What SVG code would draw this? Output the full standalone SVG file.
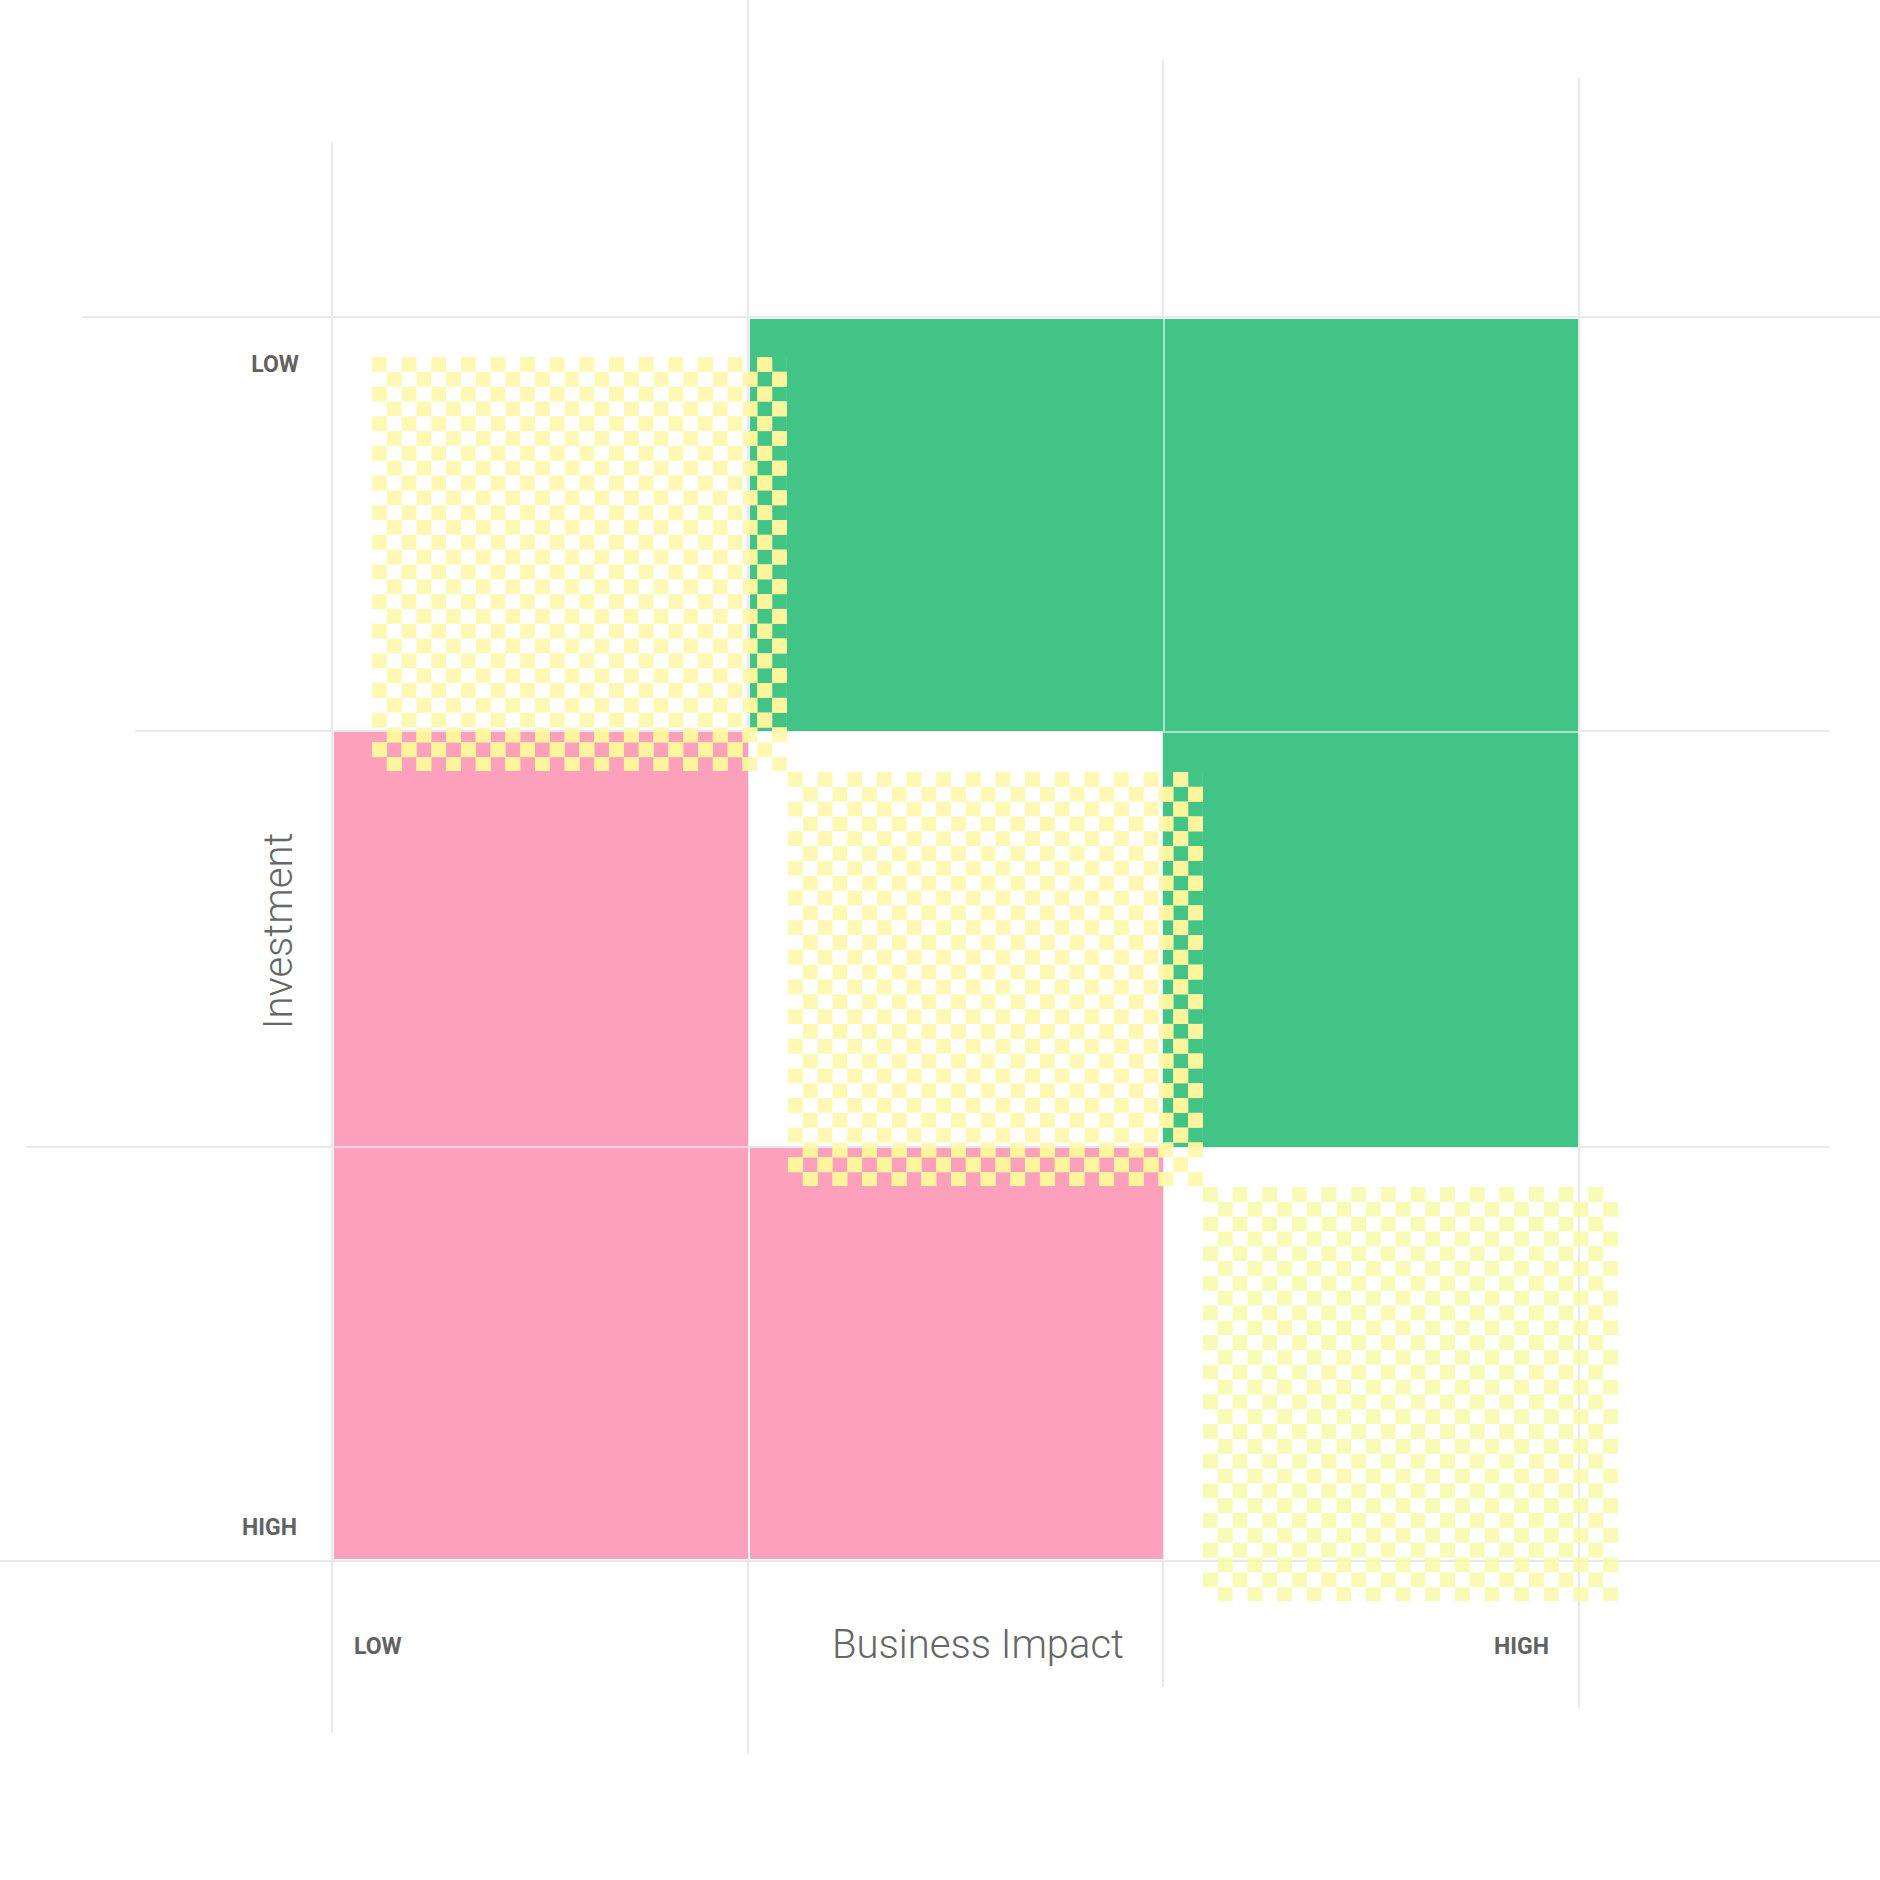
<svg xmlns="http://www.w3.org/2000/svg" width="1880" height="1880" viewBox="0 0 1880 1880">
<style>
.grid line{stroke:#e9e9e9;stroke-width:2}
.seam line{stroke:#ffffff;stroke-opacity:0.55;stroke-width:2}
.green{fill:#42c486}
.pink{fill:#fca0bc}
.tick{font-family:Roboto,"Liberation Sans",sans-serif;font-weight:700;font-size:23px;fill:#626262}
.axis{font-family:Roboto,"Liberation Sans",sans-serif;font-weight:300;font-size:40px;fill:#666666}
</style>
<defs>
<pattern id="chk1" patternUnits="userSpaceOnUse" x="372" y="357" width="29.64" height="29.64">
<rect x="0" y="0" width="14.82" height="14.82" fill="#fff59d"/>
<rect x="14.82" y="14.82" width="14.82" height="14.82" fill="#fff59d"/>
</pattern>
<pattern id="chk1p" patternUnits="userSpaceOnUse" x="372" y="357" width="29.64" height="29.64">
<rect x="0" y="0" width="14.82" height="14.82" fill="#fff8b2"/>
<rect x="14.82" y="14.82" width="14.82" height="14.82" fill="#fff8b2"/>
</pattern>
<pattern id="chk2" patternUnits="userSpaceOnUse" x="788" y="772" width="29.64" height="29.64">
<rect x="0" y="0" width="14.82" height="14.82" fill="#fff59d"/>
<rect x="14.82" y="14.82" width="14.82" height="14.82" fill="#fff59d"/>
</pattern>
<pattern id="chk2p" patternUnits="userSpaceOnUse" x="788" y="772" width="29.64" height="29.64">
<rect x="0" y="0" width="14.82" height="14.82" fill="#fff8b2"/>
<rect x="14.82" y="14.82" width="14.82" height="14.82" fill="#fff8b2"/>
</pattern>
<pattern id="chk3" patternUnits="userSpaceOnUse" x="1203" y="1187" width="29.64" height="29.64">
<rect x="0" y="0" width="14.82" height="14.82" fill="#f8f9a6"/>
<rect x="14.82" y="14.82" width="14.82" height="14.82" fill="#f8f9a6"/>
</pattern>
</defs>
<rect width="1880" height="1880" fill="#ffffff"/>
<g id="grid" class="grid">
<line x1="332" y1="142" x2="332" y2="1733"/>
<line x1="748" y1="0" x2="748" y2="1754"/>
<line x1="1163" y1="60" x2="1163" y2="1687"/>
<line x1="1579" y1="78" x2="1579" y2="1708"/>
<line x1="82" y1="317" x2="1880" y2="317"/>
<line x1="135" y1="731" x2="1829" y2="731"/>
<line x1="26" y1="1147" x2="1829" y2="1147"/>
<line x1="0" y1="1561" x2="1880" y2="1561"/>
</g>
<g id="cell-r0c1"><rect class="green" x="750" y="319" width="413" height="412"/></g>
<g id="cell-r0c2"><rect class="green" x="1163" y="319" width="415" height="412"/></g>
<g id="cell-r1c2"><rect class="green" x="1163" y="731" width="415" height="416"/></g>
<g id="cell-r1c0"><rect class="pink" x="334" y="732" width="414" height="415"/></g>
<g id="cell-r2c0"><rect class="pink" x="334" y="1147" width="414" height="412"/></g>
<g id="cell-r2c1"><rect class="pink" x="750" y="1148" width="413" height="411"/></g>
<g id="seams" class="seam">
<line x1="1164" y1="319" x2="1164" y2="731"/>
<line x1="1163" y1="732" x2="1578" y2="732"/>
<line x1="334" y1="1147" x2="748" y2="1147"/>
<line x1="749" y1="1148" x2="749" y2="1559"/>
</g>
<g id="checker-r0c0">
<rect x="372" y="357" width="415" height="414" fill="url(#chk1p)"/>
<rect x="749" y="357" width="38" height="374" fill="url(#chk1)"/>
<rect x="372" y="732" width="376" height="39" fill="url(#chk1)"/>
</g>
<g id="checker-r1c1">
<rect x="788" y="772" width="415" height="414" fill="url(#chk2p)"/>
<rect x="1164" y="772" width="39" height="375" fill="url(#chk2)"/>
<rect x="788" y="1148" width="375" height="38" fill="url(#chk2)"/>
</g>
<g id="checker-r2c2" opacity="0.85"><rect x="1203" y="1187" width="415" height="414" fill="url(#chk3)"/></g>
<g id="labels">
<text class="tick" x="299" y="372" text-anchor="end">LOW</text>
<text class="tick" x="297" y="1535" text-anchor="end">HIGH</text>
<text class="tick" x="354" y="1654">LOW</text>
<text class="tick" x="1494" y="1654">HIGH</text>
<text class="axis" x="832" y="1658">Business Impact</text>
<text class="axis" transform="translate(292 931) rotate(-90)" text-anchor="middle">Investment</text>
</g>
</svg>
